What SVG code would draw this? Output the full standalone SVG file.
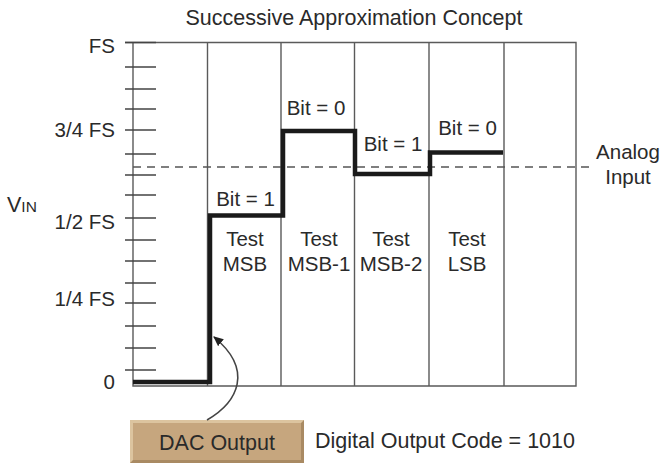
<svg xmlns="http://www.w3.org/2000/svg" width="663" height="466" viewBox="0 0 663 466">
<defs>
<style>
text{font-family:"Liberation Sans",Arial,sans-serif;fill:#2a2a2a}
.t{font-size:20.5px;text-anchor:middle}
.ax{font-size:20.5px;text-anchor:end}
.grid{stroke:#5a5a5a;stroke-width:1.4;fill:none}
.tick{stroke:#444;stroke-width:1.6}
.stair{stroke:#1a1a1a;stroke-width:4.5;fill:none;stroke-linejoin:miter}
.dash{stroke:#555;stroke-width:1.3;stroke-dasharray:8 6;fill:none}
.conn{stroke:#444;stroke-width:1.6;fill:none}
</style>
<marker id="ah" viewBox="0 0 10 10" refX="9" refY="5" markerWidth="10" markerHeight="10" markerUnits="userSpaceOnUse" orient="auto">
<path d="M0,0.5 L10,5 L0,9.5 Z" fill="#222"/>
</marker>
</defs>
<rect width="663" height="466" fill="#fff"/>
<g id="title"><text x="354" y="25" style="font-size:21.5px;text-anchor:middle">Successive Approximation Concept</text></g>
<g id="grid">
<path class="grid" d="M125,42.5 H576 V386 H133 V42.5 M207.5,42.5 V386 M281,42.5 V386 M354.5,42.5 V386 M429,42.5 V386 M504,42.5 V386"/>
<path class="dash" d="M133,167 H592"/>
</g>
<g id="axis">
<path class="tick" d="M125,42.5 H156 M125,67 H156 M125,89 H156 M125,109 H156 M125,130 H156 M125,154 H156 M125,175 H156 M125,195 H156 M125,218 H156 M125,240 H156 M125,261 H156 M125,283 H156 M125,303 H156 M125,326 H156 M125,348 H156 M125,370 H156"/>
<text class="ax" x="115" y="53">FS</text>
<text class="ax" x="115" y="137">3/4 FS</text>
<text class="ax" x="115" y="229">1/2 FS</text>
<text class="ax" x="115" y="306">1/4 FS</text>
<text class="ax" x="115" y="389">0</text>
<text x="7" y="212"><tspan style="font-size:21.5px">V</tspan><tspan style="font-size:15.5px">IN</tspan></text>
</g>
<g id="stair">
<path class="stair" d="M133,382 H210 V215.5 H283 V131 H355 V174 H430 V152.5 H503"/>
</g>
<g id="bit-labels">
<text class="t" x="245.5" y="206">Bit = 1</text>
<text class="t" x="316" y="115">Bit = 0</text>
<text class="t" x="393" y="151">Bit = 1</text>
<text class="t" x="467.5" y="135">Bit = 0</text>
</g>
<g id="test-msb"><text class="t" x="245" y="246">Test</text><text class="t" x="245" y="271">MSB</text></g>
<g id="test-msb1"><text class="t" x="319" y="246">Test</text><text class="t" x="319" y="271">MSB-1</text></g>
<g id="test-msb2"><text class="t" x="391" y="246">Test</text><text class="t" x="391" y="271">MSB-2</text></g>
<g id="test-lsb"><text class="t" x="467" y="246">Test</text><text class="t" x="467" y="271">LSB</text></g>
<g id="analog-input"><text class="t" x="628" y="159">Analog</text><text class="t" x="628" y="184">Input</text></g>
<g id="dac-output">
<rect x="130" y="420" width="174" height="43" fill="#a98a63"/>
<path d="M130,420 H304 L301,423 H133 V460 L130,463 Z" fill="#dcc49f"/>
<rect x="133" y="423" width="168" height="37" fill="#c6a67e"/>
<text x="217" y="450" style="font-size:21.5px;text-anchor:middle">DAC Output</text>
</g>
<g id="digital-code"><text x="315" y="448" style="font-size:21.5px">Digital Output Code = 1010</text></g>
<g id="connectors">
<path class="conn" d="M207,420 C238,402 254,370 214,337" marker-end="url(#ah)"/>
</g>
</svg>
